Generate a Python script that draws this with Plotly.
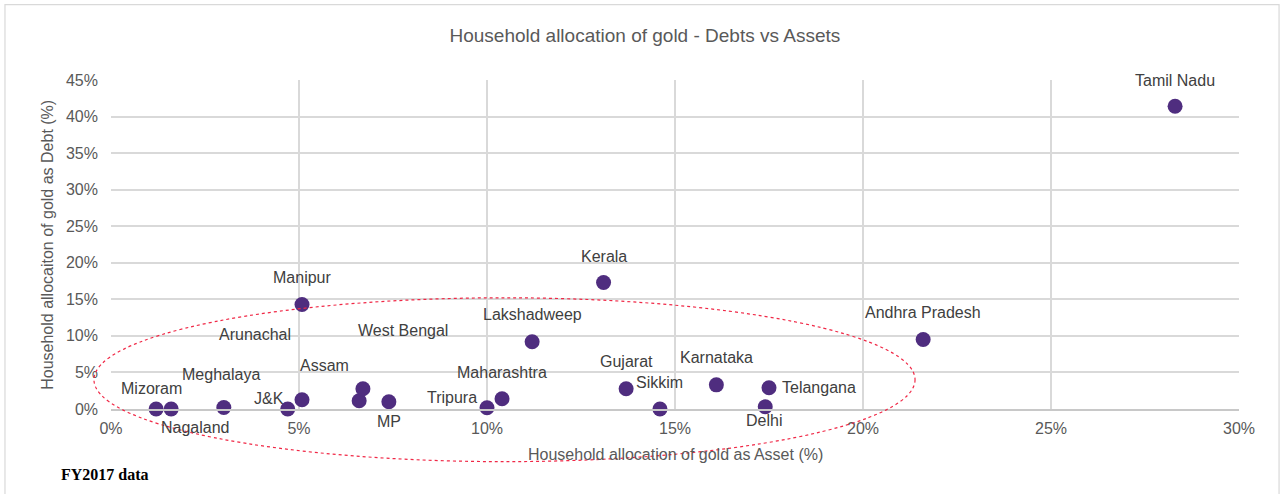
import plotly.graph_objects as go

states = ["Tamil Nadu", "Andhra Pradesh", "Kerala", "Lakshadweep", "Manipur",
          "Gujarat", "Sikkim", "Karnataka", "Telangana", "Delhi",
          "Tripura", "Maharashtra", "MP", "J&K", "Assam",
          "Arunachal", "West Bengal", "Meghalaya", "Mizoram", "Nagaland"]
asset_share = [0.283, 0.216, 0.131, 0.112, 0.0508,
               0.137, 0.146, 0.161, 0.175, 0.174,
               0.100, 0.104, 0.0739, 0.047, 0.0508,
               0.066, 0.067, 0.030, 0.012, 0.016]
debt_share = [0.414, 0.095, 0.173, 0.092, 0.143,
              0.0277, 0.0, 0.033, 0.029, 0.003,
              0.0018, 0.014, 0.010, 0.0, 0.0127,
              0.0113, 0.0277, 0.002, 0.0, 0.0]
x_ticks = [0, 0.05, 0.10, 0.15, 0.20, 0.25, 0.30]
y_ticks = [0, 0.05, 0.10, 0.15, 0.20, 0.25, 0.30, 0.35, 0.40, 0.45]

# label offsets in pixels (dx right, dy up) - styling only
label_offsets = [(0, 26), (0, 27), (0, 26), (0, 27), (0, 27),
                 (0, 27), (0, 27), (0, 27), (50, 0), (-1, -14),
                 (-35, 10), (0, 26), (0, -20), (-19, 11), (22, 34),
                 (-104, 66), (40, 58), (-3, 33), (-5, 21), (24, -18)]

GRID = "#d9d9d9"
TXT = "#595959"
FONT = "Liberation Sans, Arial, sans-serif"

fig = go.Figure()
fig.add_trace(go.Scatter(
    x=asset_share, y=debt_share, mode="markers",
    marker=dict(size=15, color="#4F2D7F", line=dict(width=0)),
    hoverinfo="skip", showlegend=False, cliponaxis=False,
))

annotations = []
for name, xv, yv, (dx, dy) in zip(states, asset_share, debt_share, label_offsets):
    annotations.append(dict(
        x=xv, y=yv, xref="x", yref="y", text=name, showarrow=False,
        xanchor="center", yanchor="middle", xshift=dx, yshift=dy,
        font=dict(family=FONT, size=16, color="#404040"),
    ))

annotations += [
    dict(text="Household allocaiton of gold as Debt (%)", textangle=-90,
         xref="paper", yref="paper", x=-0.0559, y=0.499, showarrow=False,
         xanchor="center", yanchor="middle",
         font=dict(family=FONT, size=16, color=TXT)),
    dict(text="Household allocation of gold as Asset (%)",
         xref="paper", yref="paper", x=0.5, y=-0.139, showarrow=False,
         xanchor="center", yanchor="middle",
         font=dict(family=FONT, size=16, color=TXT)),
    dict(text="<b>FY2017 data</b>",
         xref="paper", yref="paper", x=-0.0053, y=-0.1995, showarrow=False,
         xanchor="center", yanchor="middle",
         font=dict(family="Liberation Serif, Times New Roman, serif", size=16, color="#000000")),
]

shapes = [
    dict(type="rect", xref="paper", yref="paper", x0=-0.094, x1=1.0355, y0=-0.3, y1=1.229,
         line=dict(color=GRID, width=1.2), layer="below"),
    dict(type="circle", xref="paper", yref="paper", x0=-0.0151, x1=0.7128, y0=-0.160, y1=0.338,
         line=dict(color="rgb(240,40,70)", width=1.2, dash="dot"), layer="above"),
]

fig.update_layout(
    width=1282, height=494,
    margin=dict(l=111, r=43, t=80, b=85),
    paper_bgcolor="white", plot_bgcolor="white",
    title=dict(text="Household allocation of gold - Debts vs Assets",
               xref="container", yref="container", x=0.503, y=0.929,
               xanchor="center", yanchor="middle",
               font=dict(family=FONT, size=19, color=TXT)),
    xaxis=dict(range=[0, 0.30], tickvals=x_ticks, tickformat=".0%",
               showgrid=True, gridcolor=GRID, gridwidth=1.8, zeroline=False,
               showline=True, linecolor="#c8c8c8", linewidth=1.8,
               ticks="", ticklabelstandoff=4,
               tickfont=dict(family=FONT, size=16, color=TXT), fixedrange=True),
    yaxis=dict(range=[0, 0.45], tickvals=y_ticks, tickformat=".0%",
               showgrid=True, gridcolor=GRID, gridwidth=1.8, zeroline=False,
               showline=False, ticks="", ticklabelstandoff=12,
               tickfont=dict(family=FONT, size=16, color=TXT), fixedrange=True),
    annotations=annotations,
    shapes=shapes,
)

fig.write_html("out.html", config={"displayModeBar": False},
               post_script="document.body.style.margin='0';document.body.style.overflow='hidden';")
